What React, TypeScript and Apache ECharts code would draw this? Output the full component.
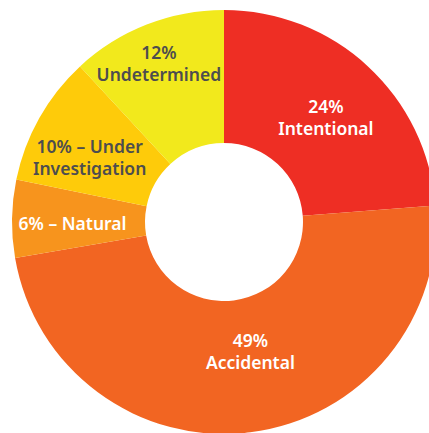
import React, { useEffect, useRef } from "react";
import * as echarts from "echarts";

const categories = ["Intentional", "Accidental", "Natural", "Under Investigation", "Undetermined"];
const values = [24, 49, 6, 10, 12];
const labelTexts = [
  "24%\nIntentional",
  "49%\nAccidental",
  "6% – Natural",
  "10% – Under\nInvestigation",
  "12%\nUndetermined",
];
const colors = ["#EE2E24", "#F26522", "#F7941D", "#FECB0A", "#F2E91C"];
const labelColors = ["#FFFFFF", "#FFFFFF", "#FFFFFF", "#4D4D4F", "#4D4D4F"];
const labelShift: [number, number][] = [
  [1, 4],
  [8, -18],
  [-3, 3],
  [-5, 8],
  [-11, -21],
];

export default function App() {
  const ref = useRef<HTMLDivElement>(null);
  useEffect(() => {
    if (!ref.current) return;
    const chart = echarts.init(ref.current, undefined, { renderer: "svg" });
    chart.setOption({
      animation: false,
      backgroundColor: "#FFFFFF",
      series: [
        {
          type: "pie",
          center: [224, 222],
          radius: [79, 212],
          startAngle: 90,
          clockwise: true,
          avoidLabelOverlap: false,
          labelLine: { show: false },
          emphasis: { disabled: true },
          label: {
            show: true,
            position: "inside",
            fontFamily: "Noto Sans",
            fontWeight: 600,
            fontSize: 17.5,
            lineHeight: 22,
            align: "center",
          },
          labelLayout: (p: any) => ({
            dx: labelShift[p.dataIndex][0],
            dy: labelShift[p.dataIndex][1],
          }),
          data: categories.map((name, i) => ({
            name,
            value: values[i],
            itemStyle: { color: colors[i] },
            label: {
              formatter: labelTexts[i],
              color: labelColors[i],
            },
          })),
        },
      ],
    });
    return () => chart.dispose();
  }, []);
  return (
    <div
      ref={ref}
      style={{ position: "fixed", left: 0, top: 0, width: 429, height: 433 }}
    />
  );
}
